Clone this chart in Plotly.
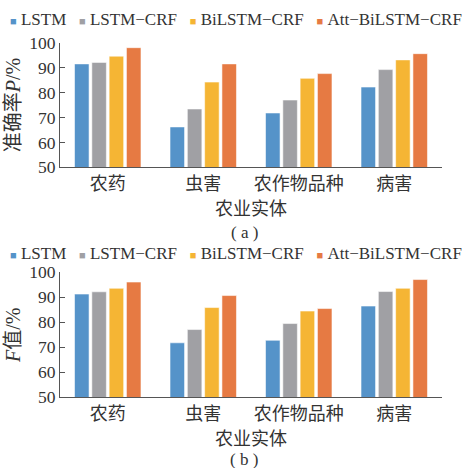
import plotly.graph_objects as go
from plotly.subplots import make_subplots

categories = ["农药", "虫害", "农作物品种", "病害"]
series_names = ["LSTM", "LSTM−CRF", "BiLSTM−CRF", "Att−BiLSTM−CRF"]
colors = ["#5593C9", "#A0A0A4", "#F5B534", "#E67A43"]

# (a) precision P / %
precision_lstm = [91.5, 66.2, 71.8, 82.2]
precision_lstm_crf = [92.1, 73.4, 77.0, 89.2]
precision_bilstm_crf = [94.6, 84.2, 85.7, 93.1]
precision_att = [98.0, 91.5, 87.6, 95.6]

# (b) F value / %
f_lstm = [91.3, 71.8, 72.8, 86.5]
f_lstm_crf = [92.2, 77.1, 79.5, 92.3]
f_bilstm_crf = [93.6, 85.9, 84.5, 93.6]
f_att = [96.1, 90.7, 85.5, 97.1]

yticks = [50, 60, 70, 80, 90, 100]

precision = [precision_lstm, precision_lstm_crf, precision_bilstm_crf, precision_att]
fvals = [f_lstm, f_lstm_crf, f_bilstm_crf, f_att]

W, H = 464, 468
FONT = "Liberation Serif, Noto Sans CJK SC, serif"
TXT = "#333333"
AX = "#555555"

fig = make_subplots(rows=2, cols=1)

for row, data in ((1, precision), (2, fvals)):
    for name, vals, c in zip(series_names, data, colors):
        fig.add_trace(go.Bar(x=categories, y=vals, name=name, marker_color=c,
                             marker_line=dict(color="rgba(255,255,255,0.55)", width=1),
                             showlegend=False), row=row, col=1)

def px_y(p):
    return 1 - p / H

xdom = [60 / W, 442 / W]
fig.update_layout(
    width=W, height=H, margin=dict(l=0, r=0, t=0, b=0),
    paper_bgcolor="white", plot_bgcolor="white",
    barmode="group", bargap=0.275, bargroupgap=0.16,
    font=dict(family=FONT, size=16, color=TXT),
)
fig.update_layout(
    xaxis=dict(domain=xdom, anchor="y"),
    yaxis=dict(domain=[px_y(167.3), px_y(42.7)], anchor="x"),
    xaxis2=dict(domain=xdom, anchor="y2"),
    yaxis2=dict(domain=[px_y(397.3), px_y(272.3)], anchor="x2"),
)
for ax in ("xaxis", "xaxis2"):
    fig.layout[ax].update(showline=True, linecolor=AX, linewidth=1.2, ticks="",
                          tickfont=dict(size=18, family=FONT, color=TXT),
                          title=dict(text="农业实体", font=dict(size=18, family=FONT, color=TXT), standoff=9),
                          automargin=False, showgrid=False)
for ax, title in (("yaxis", "准确率<i>P</i>/%"), ("yaxis2", "<i>F</i>值/%")):
    fig.layout[ax].update(range=[50, 100], tickvals=yticks, showline=True, linecolor=AX, linewidth=1.2,
                          ticks="inside", ticklen=5, tickcolor=AX, showgrid=False, zeroline=False,
                          tickfont=dict(size=17.5, family=FONT, color=TXT),
                          title=dict(text=title, font=dict(size=20, family=FONT, color=TXT), standoff=3),
                          automargin=False)

gap = "&nbsp;" * 3
legend_html = gap.join(
    f"<span style='color:{c};font-size:11px'>■</span>&nbsp;{n}" for n, c in zip(series_names, colors)
)
for ycen in (20, 254):
    fig.add_annotation(text=legend_html, x=236 / W, y=px_y(ycen), xref="paper", yref="paper",
                       xanchor="center", yanchor="middle", showarrow=False,
                       font=dict(size=17, family=FONT, color=TXT))
for lab, ycen in (("( a )", 232), ("( b )", 459)):
    fig.add_annotation(text=lab, x=244 / W, y=px_y(ycen), xref="paper", yref="paper",
                       xanchor="center", yanchor="middle", showarrow=False,
                       font=dict(size=17, family=FONT, color=TXT))

fig.write_html("out.html", config={"displayModeBar": False},
               post_script="document.body.style.margin='0';")
